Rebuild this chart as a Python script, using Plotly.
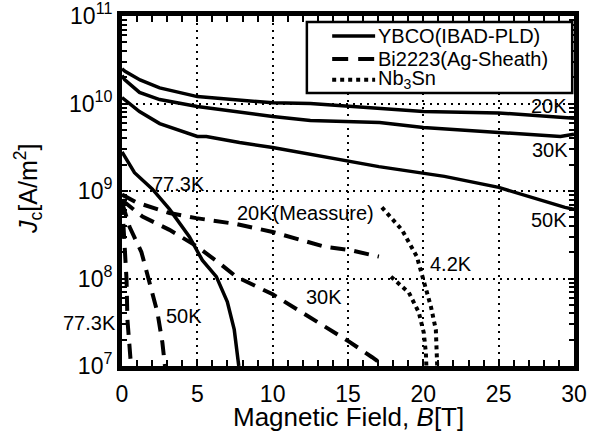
import plotly.graph_objects as go

# ---------------- data (B in T, Jc in A/m^2) ----------------
# YBCO (IBAD-PLD) - solid
ybco_20k_B = [0, 0.2, 1.2, 2.5, 5, 6.3, 7.8, 10, 12.5, 17, 20, 25, 30]
ybco_20k_J = [2.5e10, 2.34e10, 1.86e10, 1.51e10, 1.2e10, 1.15e10, 1.12e10, 1.02e10, 1.0e10, 8.9e9, 8.1e9, 7.8e9, 6.8e9]

ybco_30k_B = [0, 0.17, 1.16, 2.5, 5, 7.8, 10, 12.5, 17.1, 20, 25, 29.1, 30]
ybco_30k_J = [2.09e10, 1.88e10, 1.34e10, 1.11e10, 9.25e9, 7.9e9, 7.1e9, 6.4e9, 6.07e9, 5.32e9, 4.67e9, 4.2e9, 4.47e9]

ybco_50k_B = [0, 1.16, 2.5, 5, 5.6, 7.8, 10, 17.05, 21.4, 25, 29.4, 30]
ybco_50k_J = [1.17e10, 8.1e9, 5.9e9, 4.2e9, 4.2e9, 3.58e9, 3.14e9, 1.9e9, 1.47e9, 1.1e9, 6.5e8, 6.2e8]

ybco_77k_B = [0, 0.83, 2.02, 3.15, 4.47, 5.33, 6.26, 6.99, 7.45, 7.65, 7.75]
ybco_77k_J = [2.8e9, 1.62e9, 1.05e9, 6.2e8, 3.0e8, 1.62e8, 1.05e8, 5.4e7, 2.6e7, 1.4e7, 1.0e7]

# Bi2223 (Ag-Sheath) - dashed
bi_20k_B = [0, 0.96, 3.15, 4.93, 7.58, 10, 13.5, 15.2, 17.05]
bi_20k_J = [9.1e8, 7.4e8, 5.6e8, 4.9e8, 4.2e8, 3.4e8, 2.3e8, 2.1e8, 1.78e8]

bi_30k_B = [0, 1.36, 3.15, 4.93, 6.46, 7.58, 10, 15.07, 16.6, 17.4]
bi_30k_J = [7.9e8, 5.1e8, 3.6e8, 2.35e8, 1.5e8, 1.05e8, 6.6e7, 1.9e7, 1.26e7, 1.0e7]

bi_50k_B = [0, 0.5, 1.29, 1.82, 2.35, 2.68, 2.85]
bi_50k_J = [7.4e8, 3.9e8, 2.0e8, 8.9e7, 4.1e7, 1.86e7, 1.0e7]

bi_77k_B = [0, 0.17, 0.3, 0.36, 0.56, 0.6]
bi_77k_J = [7.9e8, 2.8e8, 9.8e7, 3.4e7, 1.3e7, 1.0e7]

# Nb3Sn - dotted (4.2 K)
nb_a_B = [17.25, 18.58, 19.57, 20.17, 20.5, 20.83, 20.9, 20.92]
nb_a_J = [6.5e8, 3.6e8, 1.78e8, 8.1e7, 4.8e7, 2.6e7, 1.4e7, 1.0e7]
nb_b_B = [17.85, 19.04, 19.7, 20.03, 20.17, 20.2]
nb_b_J = [1.05e8, 6.9e7, 4.1e7, 2.4e7, 1.4e7, 1.0e7]

# ticks
x_tick_vals = [0, 5, 10, 15, 20, 25, 30]
x_tick_text = ["0", "5", "10", "15", "20", "25", "30"]
y_tick_vals = [1e7, 1e8, 1e9, 1e10, 1e11]
y_tick_text = ["10<sup>7</sup>", "10<sup>8</sup>", "10<sup>9</sup>", "10<sup>10</sup>", "10<sup>11</sup>"]
y_minor_vals = [m * d for d in [1e7, 1e8, 1e9, 1e10] for m in range(2, 10)]

# curve labels: (text, B, log10 Jc)
label_text = ["20K", "30K", "50K", "4.2K", "77.3K", "20K(Meassure)", "30K", "50K"]
label_B = [28.34, 28.41, 28.34, 21.84, 3.72, 12.15, 13.41, 4.11]
label_logJ = [9.97, 9.47, 8.67, 8.17, 9.08, 8.75, 7.79, 7.57]

legend_names = ["YBCO(IBAD-PLD)", "Bi2223(Ag-Sheath)", "Nb<sub>3</sub>Sn"]

FONT = "Liberation Sans, Arial, Helvetica, sans-serif"
DASH = "15px,9px"

fig = go.Figure()


def add(B, J, dash, width):
    fig.add_trace(go.Scatter(x=B, y=J, mode="lines",
                             line=dict(color="black", width=width, dash=dash),
                             showlegend=False, hoverinfo="skip"))


for B, J in [(ybco_20k_B, ybco_20k_J), (ybco_30k_B, ybco_30k_J),
             (ybco_50k_B, ybco_50k_J), (ybco_77k_B, ybco_77k_J)]:
    add(B, J, "solid", 3.5)
for B, J in [(bi_20k_B, bi_20k_J), (bi_30k_B, bi_30k_J),
             (bi_50k_B, bi_50k_J), (bi_77k_B, bi_77k_J)]:
    add(B, J, DASH, 4)
for B, J in [(nb_a_B, nb_a_J), (nb_b_B, nb_b_J)]:
    add(B, J, "4px,4px", 4)

for t, b, lj in zip(label_text, label_B, label_logJ):
    fig.add_annotation(x=b, y=lj, xref="x", yref="y", text=t, showarrow=False,
                       xanchor="center", yanchor="middle",
                       font=dict(size=20, family=FONT, color="black"))
# 77.3K label left of axis
fig.add_annotation(x=-0.071, y=7.49, xref="paper", yref="y", text="77.3K",
                   xanchor="center", yanchor="middle",
                   showarrow=False, font=dict(size=20, family=FONT, color="black"))

# axis titles
fig.add_annotation(x=0.502, y=-0.146, xref="paper", yref="paper",
                   xanchor="center", yanchor="middle",
                   text="Magnetic Field, <i>B</i>[T]", showarrow=False,
                   font=dict(size=26, family=FONT, color="black"))
fig.add_annotation(x=-0.208, y=0.506, xref="paper", yref="paper", textangle=-90,
                   xanchor="center", yanchor="middle",
                   text="<i>J</i><sub>c</sub>[A/m<sup>2</sup>]", showarrow=False,
                   font=dict(size=25, family=FONT, color="black"))

# manual legend
fig.add_shape(type="rect", xref="paper", yref="paper", x0=0.409, x1=0.996, y0=0.78, y1=0.983,
              line=dict(color="black", width=2.5), fillcolor="white", layer="above")
leg_y = [0.943, 0.877, 0.818]
leg_dash = ["solid", "16px,10px", "4px,4px"]
leg_w = [3.5, 4, 4]
for name, yy, d, w in zip(legend_names, leg_y, leg_dash, leg_w):
    fig.add_shape(type="line", xref="paper", yref="paper", x0=0.465, x1=0.560, y0=yy, y1=yy,
                  line=dict(color="black", width=w, dash=d), layer="above")
    fig.add_annotation(x=0.563, y=yy, xref="paper", yref="paper", text=name, showarrow=False,
                       xanchor="left", yanchor="middle",
                       font=dict(size=20, family=FONT, color="black"))

axis_common = dict(ticks="inside", ticklen=6, tickwidth=1.5, tickcolor="black",
                   showline=True, linewidth=5, linecolor="black", mirror="ticks",
                   showgrid=True, gridcolor="black", gridwidth=1.5, griddash="2px,5px",
                   zeroline=False, tickfont=dict(size=23, family=FONT, color="black"),
                   automargin=False, ticklabeloverflow="allow")

fig.update_xaxes(range=[0, 30], tickmode="array", tickvals=x_tick_vals, ticktext=x_tick_text,
                 ticklabelstandoff=3,
                 minor=dict(dtick=1, ticks="inside", ticklen=6, tickwidth=1.5,
                            tickcolor="black", showgrid=False),
                 **axis_common)
fig.update_yaxes(type="log", range=[7, 11.0005], tickmode="array", tickvals=y_tick_vals,
                 ticktext=y_tick_text,
                 minor=dict(tickmode="array", tickvals=y_minor_vals, ticks="inside", ticklen=5,
                            tickwidth=1.5, tickcolor="black", showgrid=False),
                 **axis_common)

fig.update_layout(width=605, height=439, margin=dict(l=122, r=31, t=16, b=73),
                  paper_bgcolor="white", plot_bgcolor="white", showlegend=False,
                  font=dict(family=FONT, color="black", size=20))

fig.write_html("out.html", config={"displayModeBar": False},
               post_script="document.body.style.margin='0px';")
